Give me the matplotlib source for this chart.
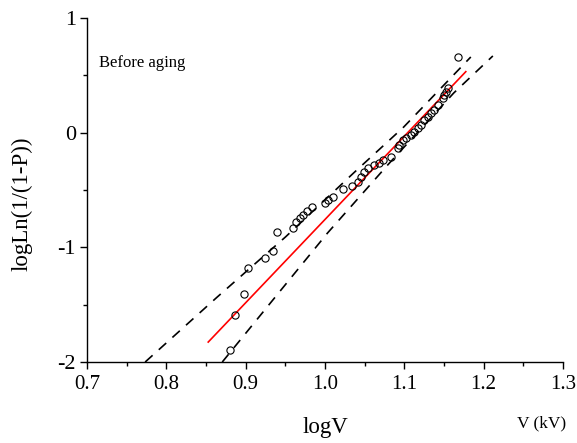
import numpy as np
import matplotlib
matplotlib.use("Agg")
import matplotlib.pyplot as plt
from matplotlib.ticker import MultipleLocator

plt.rcParams['font.family'] = ['Liberation Serif', 'DejaVu Serif']
plt.rcParams['axes.unicode_minus'] = False

# Weibull plot data: log of breakdown voltage vs logLn(1/(1-P))
log_v = [0.8806, 0.8870, 0.8983, 0.9034, 0.9248, 0.9350, 0.9400, 0.9602,
         0.9640, 0.9691, 0.9728, 0.9779, 0.9830, 1.0006, 1.0044, 1.0095,
         1.0221, 1.0335, 1.0411, 1.0449, 1.0486, 1.0537, 1.0613, 1.0676,
         1.0726, 1.0827, 1.0916, 1.0929, 1.0979, 1.1017, 1.1080, 1.1118,
         1.1168, 1.1206, 1.1244, 1.1295, 1.1333, 1.1371, 1.1421, 1.1484,
         1.1497, 1.1522, 1.1547, 1.1674]
log_ln = [-1.895, -1.590, -1.407, -1.180, -1.093, -1.032, -0.866, -0.831,
          -0.779, -0.744, -0.718, -0.683, -0.648, -0.613, -0.587, -0.561,
          -0.491, -0.465, -0.430, -0.387, -0.343, -0.308, -0.282, -0.265,
          -0.238, -0.212, -0.134, -0.108, -0.064, -0.046, -0.020, 0.006,
          0.041, 0.067, 0.110, 0.137, 0.172, 0.198, 0.241, 0.302,
          0.329, 0.355, 0.390, 0.660]

# fitted line
fit_x = [0.8528, 1.1775]
fit_y = [-1.826, 0.532]

# confidence bounds
upper_x = [0.7733, 0.8642, 0.9501, 1.0360, 1.0992, 1.1838]
upper_y = [-2.0, -1.433, -0.910, -0.352, 0.049, 0.660]
lower_x = [0.8705, 0.9476, 1.0032, 1.0790, 1.1623, 1.2116]
lower_y = [-2.0, -1.346, -0.875, -0.282, 0.346, 0.669]

fig = plt.figure(figsize=(5.77, 4.43), dpi=100)
ax = fig.add_axes([0.1508, 0.1828, 0.8249, 0.7766])

ax.plot(upper_x, upper_y, color='black', lw=1.2, dashes=(6, 5))
ax.plot(lower_x, lower_y, color='black', lw=1.2, dashes=(6, 5))
ax.plot(fit_x, fit_y, color='red', lw=1.2)
ax.plot(log_v, log_ln, 'o', ms=5.2, mfc='none', mec='black', mew=0.8)

ax.set_xlim(0.7, 1.3)
ax.set_ylim(-2, 1)
ax.xaxis.set_major_locator(MultipleLocator(0.1))
ax.xaxis.set_minor_locator(MultipleLocator(0.05))
ax.yaxis.set_major_locator(MultipleLocator(1))
ax.yaxis.set_minor_locator(MultipleLocator(0.5))
ax.set_xticklabels([f'{v:.1f}' for v in ax.get_xticks()])
ax.tick_params(which='major', direction='out', length=5, width=1, labelsize=15, pad=4)
ax.tick_params(axis='y', which='major', labelsize=16, pad=3)
ax.tick_params(which='minor', direction='out', length=3, width=1)

for side in ['top', 'right']:
    ax.spines[side].set_visible(False)
for side in ['left', 'bottom']:
    ax.spines[side].set_linewidth(1)

ax.text(0.025, 0.868, 'Before aging', transform=ax.transAxes, fontsize=12,
        va='center', ha='left')

fig.text(22 / 577, 1 - 204 / 443, 'logLn(1/(1-P))', rotation=90, fontsize=16.5,
         ha='center', va='center')
fig.text(325 / 577, 1 - 428 / 443, 'logV', fontsize=16.5, ha='center', va='center')
fig.text(542 / 577, 1 - 423 / 443, 'V (kV)', fontsize=12.5, ha='center', va='center')

fig.savefig('out.png', dpi=100)
